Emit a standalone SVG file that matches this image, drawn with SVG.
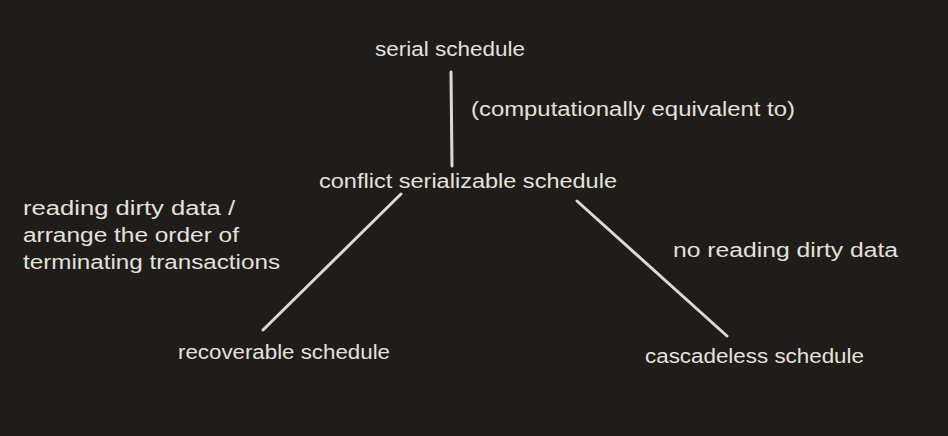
<svg xmlns="http://www.w3.org/2000/svg" width="948" height="436" viewBox="0 0 948 436">
<style>
.t{font-family:"Liberation Sans","DejaVu Sans",sans-serif;font-size:20px;fill:#e4e1dc}
.c line{stroke:#dcd9d4;stroke-width:3;stroke-linecap:round}
</style>
<rect width="948" height="436" fill="#201c1a"/>
<g class="c" id="connectors">
<line x1="451" y1="72" x2="452" y2="166"/>
<line x1="401" y1="194" x2="263" y2="330"/>
<line x1="577" y1="201" x2="727" y2="336"/>
</g>
<g id="serial"><text class="t" x="375" y="56" textLength="150" lengthAdjust="spacingAndGlyphs">serial schedule</text></g>
<g id="equiv-label"><text class="t" x="471" y="116" textLength="324" lengthAdjust="spacingAndGlyphs">(computationally equivalent to)</text></g>
<g id="conflict"><text class="t" x="319" y="188" textLength="298" lengthAdjust="spacingAndGlyphs">conflict serializable schedule</text></g>
<g id="left-label">
<text class="t" x="23" y="215" textLength="212" lengthAdjust="spacingAndGlyphs">reading dirty data /</text>
<text class="t" x="23" y="242" textLength="216" lengthAdjust="spacingAndGlyphs">arrange the order of</text>
<text class="t" x="23" y="269" textLength="257" lengthAdjust="spacingAndGlyphs">terminating transactions</text>
</g>
<g id="recoverable"><text class="t" x="178" y="359" textLength="212" lengthAdjust="spacingAndGlyphs">recoverable schedule</text></g>
<g id="right-label"><text class="t" x="673" y="257" textLength="225" lengthAdjust="spacingAndGlyphs">no reading dirty data</text></g>
<g id="cascadeless"><text class="t" x="645" y="363" textLength="219" lengthAdjust="spacingAndGlyphs">cascadeless schedule</text></g>
</svg>
